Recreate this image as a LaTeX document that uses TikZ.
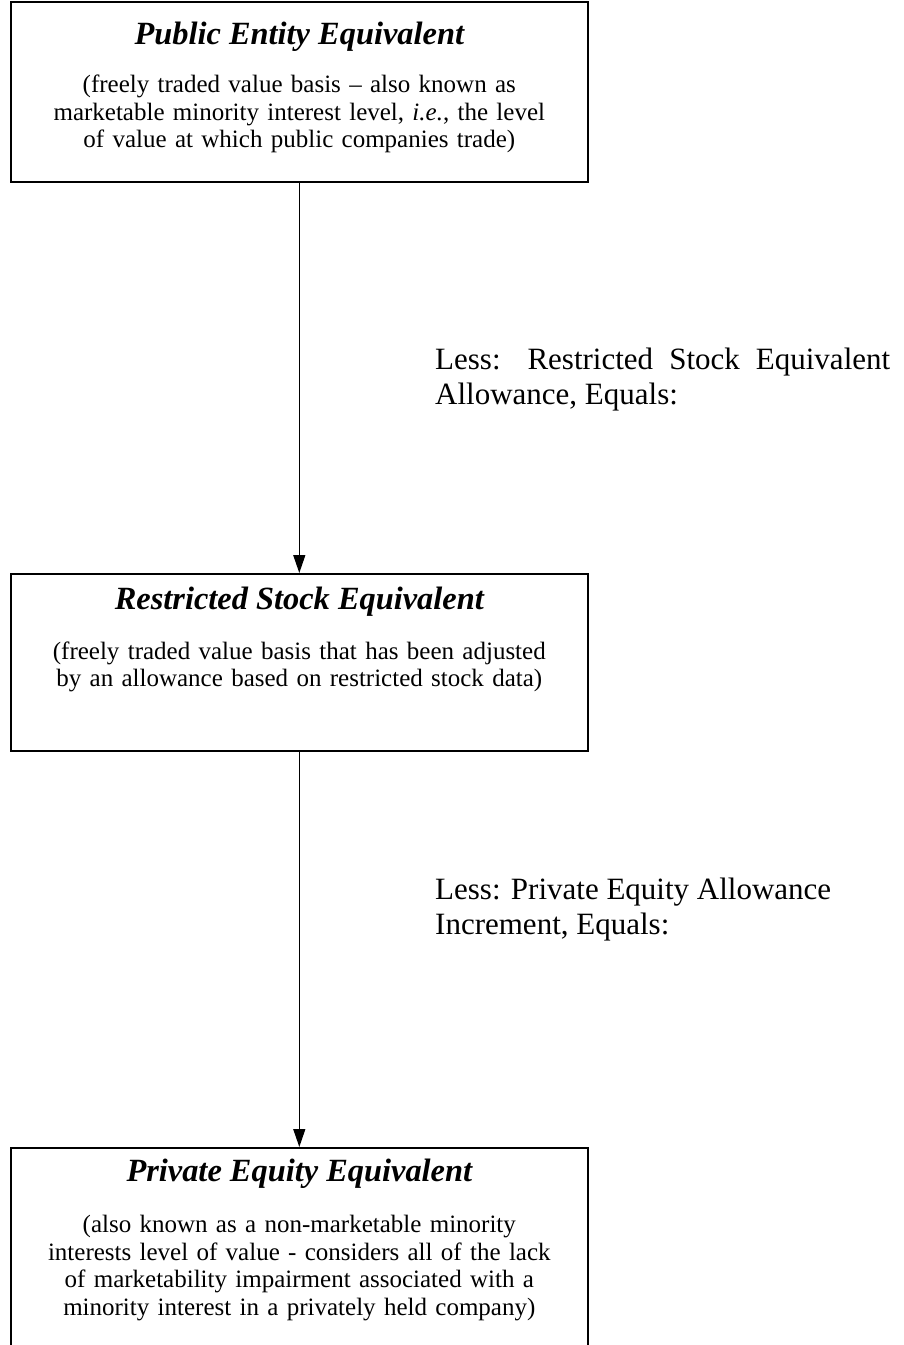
\documentclass[tikz,border=0pt]{standalone}
\usepackage{fontspec}
\setmainfont{Liberation Serif}
\usetikzlibrary{positioning,arrows.meta}

\tikzset{
    levelbox/.style={draw, line width=1.6pt, anchor=north west,
        minimum width=577pt, inner sep=0pt},
    leveltitle/.style={font=\fontsize{32.4}{37}\selectfont\bfseries\itshape,
        inner sep=0pt},
    levelnote/.style={font=\fontsize{25}{27.5}\selectfont, align=center,
        text width=570pt, inner sep=0pt},
    steplabel/.style={font=\fontsize{31}{35}\selectfont, align=left,
        anchor=north west, inner sep=0pt},
    flow/.style={line width=1.3pt, -{Triangle[length=18pt,width=12pt]}},
}

\begin{document}
\begin{tikzpicture}[x=1pt,y=-1pt]
    \useasboundingbox (0,0) rectangle (904,1345);

    % the three levels of value
    \node[levelbox, minimum height=180pt] (pub) at (10,1) {};
    \node[leveltitle] (pubtitle) at ([yshift=-36pt]pub.north) {Public Entity Equivalent};
    \node[levelnote] (pubnote) at ([yshift=-113pt]pub.north)
        {(freely traded value basis -- also known as\\
         marketable minority interest level, \textit{i.e.}, the level\\
         of value at which public companies trade)};

    \node[levelbox, minimum height=177pt] (rse) at (10,573) {};
    \node[leveltitle] (rsetitle) at ([yshift=-29pt]rse.north) {Restricted Stock Equivalent};
    \node[levelnote] (rsenote) at ([yshift=-94pt]rse.north)
        {(freely traded value basis that has been adjusted\\
         by an allowance based on restricted stock data)};

    \node[levelbox, minimum height=230pt] (pee) at (10,1147) {};
    \node[leveltitle] (peetitle) at ([yshift=-27pt]pee.north) {Private Equity Equivalent};
    \node[levelnote] (peenote) at ([yshift=-121pt]pee.north)
        {(also known as a non-marketable minority\\
         interests level of value - considers all of the lack\\
         of marketability impairment associated with a\\
         minority interest in a privately held company)};

    % adjustments between the levels
    \draw[flow] (pub.south) -- (rse.north);
    \draw[flow] (rse.south) -- (pee.north);

    \node[steplabel] (lessrse) at (435,348)
        {\makebox[455pt][s]{Less: Restricted Stock Equivalent}\\
         Allowance, Equals:};
    \node[steplabel] (lesspee) at (435,878)
        {Less: Private Equity Allowance\\
         Increment, Equals:};
\end{tikzpicture}
\end{document}
